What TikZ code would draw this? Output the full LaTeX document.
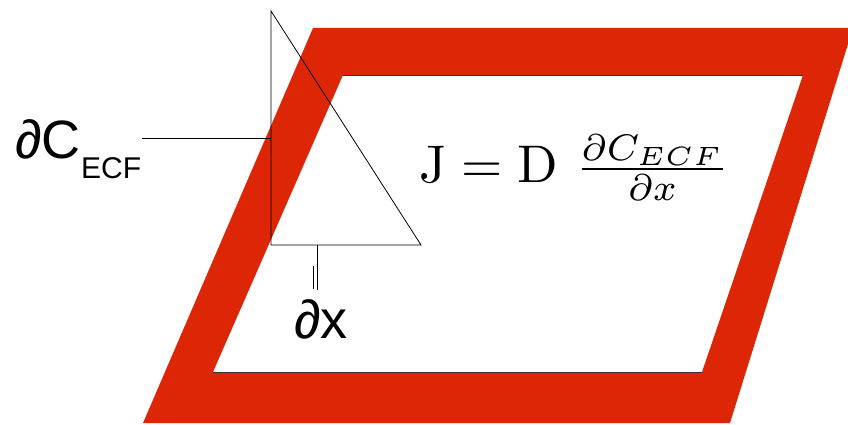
\documentclass[tikz,border=0pt]{standalone}
\usepackage{fontspec}
\newfontfamily\arialf{Liberation Sans}
\definecolor{bandred}{RGB}{221,38,6}
\begin{document}
\begin{tikzpicture}[x=1pt,y=-1pt,
  thinline/.style={black,line width=0.8pt},
  edgeline/.style={black!80,line width=0.6pt},
  labeltext/.style={inner sep=0pt,anchor=base west}]
\useasboundingbox (0,0) rectangle (848,425);
% red parallelogram band
\fill[bandred,even odd rule]
  (313,28) -- (853,28) -- (730,423) -- (143,423) -- cycle
  (343,75) -- (803,75) -- (702,372) -- (213,372) -- cycle;
\draw[edgeline] (343,75) -- (803,75);
\draw[edgeline] (213,372) -- (702,372);
% triangle
\coordinate (tt) at (271,11);
\coordinate (tl) at (271,245);
\coordinate (tr) at (421,245);
\draw[thinline] (tt) -- (tl) -- (tr) -- cycle;
% leader lines
\coordinate (cl) at (142,138);
\coordinate (cr) at (271,138);
\draw[thinline] (cl) -- (cr);
\coordinate (xa) at (317,245);
\coordinate (xb) at (317,290);
\coordinate (xc) at (313,266);
\coordinate (xd) at (313,289);
\draw[thinline] (xa) -- (xb);
\draw[thinline] (xc) -- (xd);
% labels
\node[labeltext] (dc) at (15,158) {\arialf\fontsize{54}{60}\selectfont ∂C};
\node[labeltext] (ecf) at (81,178) {\arialf\fontsize{30}{34}\selectfont ECF};
\node[labeltext] (dx) at (294,338) {\arialf\fontsize{54}{60}\selectfont ∂x};
\node[labeltext] (eq) at (419,182) {\scalebox{5.3}{$\mathrm{J} = \mathrm{D}\ \frac{\partial C_{ECF}}{\partial x}$}};
\end{tikzpicture}
\end{document}
